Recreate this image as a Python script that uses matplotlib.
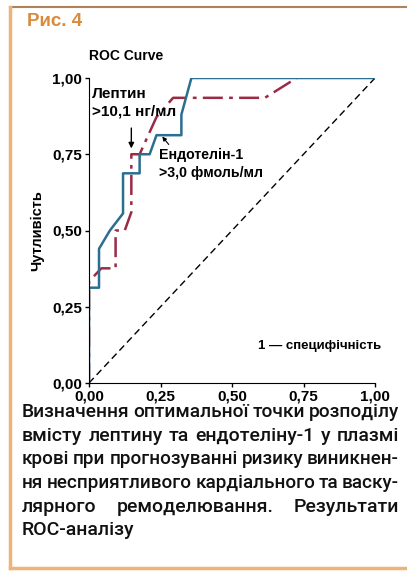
import numpy as np
import matplotlib.pyplot as plt
from matplotlib.lines import Line2D

# ROC curves (1 - specificity, sensitivity)
endothelin_fpr = [0.0, 0.0, 0.035, 0.035, 0.073, 0.119, 0.119, 0.177, 0.177, 0.212, 0.236, 0.323, 0.323, 0.358, 1.0]
endothelin_tpr = [0.0, 0.3125, 0.3125, 0.44, 0.5, 0.556, 0.6875, 0.6875, 0.75, 0.75, 0.8125, 0.8125, 0.88, 1.0, 1.0]

leptin_fpr = [0.0, 0.0, 0.043, 0.093, 0.093, 0.125, 0.148, 0.148, 0.177, 0.236, 0.294, 0.615, 0.726]
leptin_tpr = [0.0, 0.333, 0.376, 0.376, 0.5, 0.5, 0.56, 0.75, 0.75, 0.872, 0.935, 0.935, 1.0]

ticks = [0.0, 0.25, 0.5, 0.75, 1.0]
tick_labels = ["0,00", "0,25", "0,50", "0,75", "1,00"]

caption_lines = ["Визначення оптимальної точки розподілу",
                 "вмісту лептину та ендотеліну-1 у плазмі",
                 "крові при прогнозуванні ризику виникнен-",
                 "ня несприятливого кардіального та васку-",
                 "лярного ремоделювання. Результати",
                 "ROC-аналізу"]

plt.rcParams['font.family'] = ['Liberation Sans', 'DejaVu Sans']

fig = plt.figure(figsize=(4.07, 5.71), dpi=100)
ax = fig.add_axes([89/407, 1-383/571, 286/407, 305/571])

ax.plot([0, 1], [0, 1], color='black', lw=1.0, ls=(0, (5, 3)))
ax.plot(leptin_fpr, leptin_tpr, color='#9b2a45', lw=1.8, ls=(0, (8, 2.5, 1.5, 2.5)))
ax.plot(endothelin_fpr, endothelin_tpr, color='#2c6e90', lw=1.8)

ax.set_xlim(0, 1)
ax.set_ylim(0, 1)
ax.set_xticks(ticks)
ax.set_xticklabels(tick_labels)
ax.set_yticks(ticks)
ax.set_yticklabels(tick_labels)
ax.tick_params(direction='out', length=3, width=1, labelsize=11, pad=2)
for lbl in ax.get_xticklabels() + ax.get_yticklabels():
    lbl.set_fontweight('bold')
ax.spines['top'].set_visible(False)
ax.spines['right'].set_visible(False)
ax.set_facecolor('none')

ax.set_ylabel("Чутливість", fontsize=10.5, fontweight='bold', labelpad=6)
ax.text(0.0, 1.06, "ROC Curve", fontsize=10, fontweight='bold', transform=ax.transAxes)

# annotations
ax.annotate("", xy=(0.148, 0.76), xytext=(0.148, 0.845),
            arrowprops=dict(arrowstyle='-|>', color='black', lw=1, mutation_scale=8))
ax.text(0.01, 0.97, "Лептин\n>10,1 нг/мл", fontsize=11, fontweight='bold',
        va='top', ha='left', linespacing=1.3)
ax.annotate("", xy=(0.25, 0.815), xytext=(0.285, 0.775),
            arrowprops=dict(arrowstyle='-|>', color='black', lw=0.8, mutation_scale=6))
ax.text(0.245, 0.77, "Ендотелін-1\n>3,0 фмоль/мл", fontsize=10.2, fontweight='bold',
        va='top', ha='left', linespacing=1.35)
ax.text(0.59, 0.12, "1 — специфічність", fontsize=9.5, fontweight='bold',
        va='center', ha='left')

fig.text(27/407, 1-22/571, "Рис. 4", fontsize=13.5, fontweight='bold', color='#d98a3d',
         va='center', ha='left')

# justified caption, one line at a time
renderer = fig.canvas.get_renderer()
cap_font = ['Roboto', 'DejaVu Sans']
x_left, x_right = 22, 399
line_y = [412, 436, 459, 483, 507, 530]
for i, line in enumerate(caption_lines):
    words = line.split(" ")
    size = 14.0
    while True:
        widths = []
        for w in words:
            t = fig.text(0, 0, w, fontsize=size, family=cap_font, fontweight='medium')
            widths.append(t.get_window_extent(renderer).width)
            t.remove()
        if sum(widths) + 3.0 * (len(words) - 1) <= x_right - x_left or size < 10:
            break
        size -= 0.2
    last = i == len(caption_lines) - 1
    gap = 4.5 if last or len(words) == 1 else (x_right - x_left - sum(widths)) / (len(words) - 1)
    x = x_left
    for w, wd in zip(words, widths):
        fig.text(x / 407, 1 - line_y[i] / 571, w, fontsize=size, family=cap_font,
                 fontweight='medium', va='center', ha='left', color='#111111')
        x += wd + gap

# frame
fig.add_artist(Line2D([10/407, 1], [1-7/571, 1-7/571], color='#b0825a', lw=1.5, transform=fig.transFigure))
fig.add_artist(Line2D([10/407, 10/407], [1-7/571, 1-568/571], color='#efb37a', lw=2.5, transform=fig.transFigure))
fig.add_artist(Line2D([10/407, 1], [1-568/571, 1-568/571], color='#efb37a', lw=2.5, transform=fig.transFigure))

fig.savefig("out.png", dpi=100)
